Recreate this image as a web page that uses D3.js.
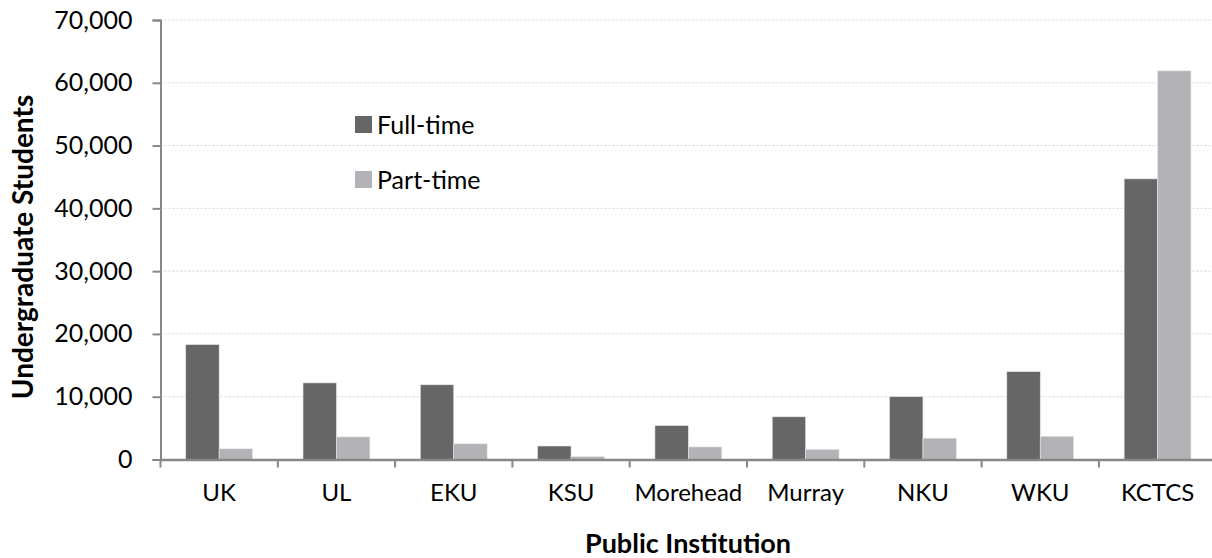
<!DOCTYPE html>
<html>
<head>
<meta charset="utf-8">
<script src="https://cdn.jsdelivr.net/npm/d3@7/dist/d3.min.js"></script>
<style>
  html, body { margin: 0; padding: 0; background: #fff; overflow: hidden; }
  svg { display: block; font-family: Lato, "Open Sans", sans-serif; }
</style>
</head>
<body>
<svg id="chart" width="1212" height="558"></svg>
<script>
const categories = ["UK", "UL", "EKU", "KSU", "Morehead", "Murray", "NKU", "WKU", "KCTCS"];
const seriesNames = ["Full-time", "Part-time"];
const fullTime = [18300, 12200, 11900, 2150, 5400, 6800, 10000, 14000, 44700];
const partTime = [1700, 3600, 2500, 450, 2000, 1600, 3400, 3700, 61900];
const yTicks = [0, 10000, 20000, 30000, 40000, 50000, 60000, 70000];
const colors = ["#666666", "#b3b3b7"];

const svg = d3.select("#chart");
const plotLeft = 160.5, plotRight = 1216.2, plotTop = 20, plotBottom = 459.5;

const x = d3.scaleBand().domain(categories).range([plotLeft, plotRight])
  .paddingInner(0.43).paddingOuter(0.215);
const xs = d3.scaleBand().domain(seriesNames).range([0, x.bandwidth()]).padding(0);
const y = d3.scaleLinear().domain([0, 70000]).range([plotBottom, plotTop]);
const color = d3.scaleOrdinal().domain(seriesNames).range(colors);

// gridlines
svg.append("g").selectAll("line").data(yTicks.filter(d => d > 0)).join("line")
  .attr("x1", plotLeft).attr("x2", 1212)
  .attr("y1", d => y(d)).attr("y2", d => y(d))
  .attr("stroke", "#d4d4d4").attr("stroke-width", 1).attr("stroke-dasharray", "2,2");

// bars
const rows = categories.map((c, i) => ({ c, vals: [fullTime[i], partTime[i]] }));
const groups = svg.append("g").selectAll("g").data(rows).join("g")
  .attr("transform", d => `translate(${x(d.c)},0)`);
groups.selectAll("rect").data(d => d.vals.map((v, j) => ({ s: seriesNames[j], v })))
  .join("rect")
  .attr("x", d => xs(d.s))
  .attr("width", xs.bandwidth())
  .attr("y", d => y(d.v))
  .attr("height", d => y(0) - y(d.v))
  .attr("fill", d => color(d.s))
  .attr("stroke", "#e6e6e6").attr("stroke-width", 0.6);

// y axis
const yAxis = d3.axisLeft(y).tickValues(yTicks).tickSize(8).tickPadding(20)
  .tickFormat(d3.format(","));
const gy = svg.append("g").attr("transform", `translate(${plotLeft},0)`).call(yAxis);
gy.select(".domain").attr("stroke", "#878787").attr("stroke-width", 2);
gy.selectAll(".tick line").attr("stroke", "#878787").attr("stroke-width", 2);
gy.selectAll(".tick text").attr("font-size", 25).attr("fill", "#000")
  .attr("font-family", "Lato, sans-serif");

// x axis
const xAxis = d3.axisBottom(x).tickSize(0).tickPadding(24);
const gx = svg.append("g").attr("transform", `translate(0,${plotBottom})`).call(xAxis);
gx.select(".domain").attr("stroke", "#878787").attr("stroke-width", 2.5);
gx.selectAll(".tick text").attr("font-size", 24).attr("fill", "#000")
  .attr("font-family", "Lato, sans-serif");
// boundary tick marks between categories
svg.append("g").selectAll("line").data(d3.range(categories.length + 1)).join("line")
  .attr("x1", i => plotLeft + i * x.step()).attr("x2", i => plotLeft + i * x.step())
  .attr("y1", plotBottom).attr("y2", plotBottom + 8)
  .attr("stroke", "#878787").attr("stroke-width", 2);

// axis titles
svg.append("text").attr("x", 688).attr("y", 553).attr("text-anchor", "middle")
  .attr("font-size", 27).attr("font-weight", "bold").attr("fill", "#000")
  .text("Public Institution");
svg.append("text").attr("transform", "translate(33,247) rotate(-90)")
  .attr("text-anchor", "middle")
  .attr("font-size", 28).attr("font-weight", "bold").attr("fill", "#000")
  .text("Undergraduate Students");

// legend
const legend = svg.append("g").selectAll("g").data(seriesNames).join("g")
  .attr("transform", (d, i) => `translate(355,${116 + i * 55})`);
legend.append("rect").attr("width", 17).attr("height", 17).attr("fill", d => color(d));
legend.append("text").attr("x", 22).attr("y", 18).attr("font-size", 25).attr("fill", "#000")
  .text(d => d);
</script>
</body>
</html>
